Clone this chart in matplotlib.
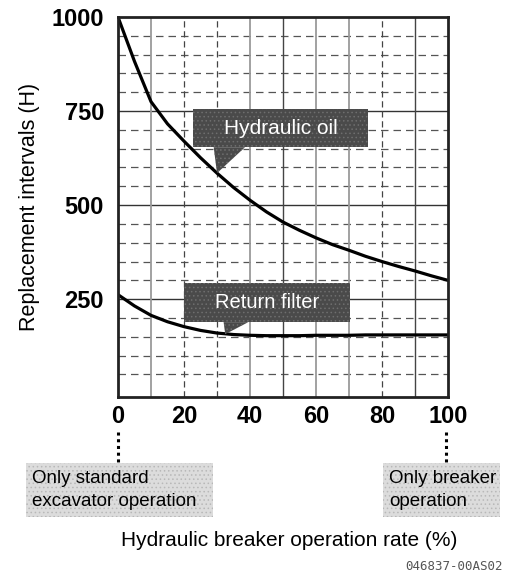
import numpy as np
import matplotlib
matplotlib.use("Agg")
import matplotlib.pyplot as plt
from matplotlib.patches import Polygon, Rectangle

plt.rcParams["font.family"] = ["Liberation Sans", "DejaVu Sans"]
plt.rcParams["hatch.linewidth"] = 0.6

# operation rate (%) and replacement intervals (H)
rate = [0, 5, 10, 15, 20, 25, 30, 35, 40, 45, 50, 55, 60, 65, 70, 75, 80, 85, 90, 95, 100]
hydraulic_oil = [1000, 882, 775, 716, 670, 626, 585, 547, 513, 482, 455, 433, 413, 395,
                 380, 364, 350, 337, 325, 312, 300]
return_filter = [262, 232, 207, 190, 177, 167, 160, 156, 154, 153, 153, 153, 154, 154,
                 154, 155, 155, 155, 155, 155, 155]

x_ticks = [0, 20, 40, 60, 80, 100]
y_ticks = [250, 500, 750, 1000]

W, H = 506, 573
fig = plt.figure(figsize=(W / 100, H / 100), dpi=100)
ax = fig.add_axes([118 / W, 1 - 397 / H, 330 / W, 380 / H])
ax.set_xlim(0, 100)
ax.set_ylim(-10, 1000)

# grid: solid every 250 H, dashed every 50 H
for y in range(50, 1000, 50):
    if y % 250 == 0:
        ax.axhline(y, color="#333333", lw=1.0, zorder=1)
    else:
        ax.axhline(y, color="#555555", lw=0.9, dashes=(6, 4), zorder=1)

v_styles = {10: "g", 20: "d", 30: "d", 40: "g", 50: "k", 60: "g", 70: "g", 80: "d", 90: "k"}
for x, s in v_styles.items():
    if s == "g":
        ax.axvline(x, color="#9a9a9a", lw=1.3, zorder=1)
    elif s == "k":
        ax.axvline(x, color="#444444", lw=1.0, zorder=1)
    else:
        ax.axvline(x, color="#444444", lw=0.9, dashes=(5, 3), zorder=1)

ax.plot(rate, hydraulic_oil, color="black", lw=2.3, zorder=3, solid_capstyle="round",
        solid_joinstyle="round")
ax.plot(rate, return_filter, color="black", lw=2.3, zorder=3, solid_capstyle="round",
        solid_joinstyle="round")

for sp in ax.spines.values():
    sp.set_linewidth(2.0)
    sp.set_color("#222222")
    sp.set_zorder(5)

ax.set_xticks(x_ticks)
ax.set_xticklabels([str(v) for v in x_ticks])
ax.set_yticks(y_ticks)
ax.set_yticklabels([str(v) for v in y_ticks])
ax.tick_params(length=0, labelsize=17)
for lab in ax.get_xticklabels() + ax.get_yticklabels():
    lab.set_fontweight("bold")
ax.tick_params(axis="x", pad=6)
ax.tick_params(axis="y", pad=10)


def callout(x0, x1, y0, y1, base, tip, text, size):
    ax.add_patch(Rectangle((x0, y1), x1 - x0, y0 - y1, facecolor="#4a4a4a",
                           edgecolor="#6e6e6e", hatch="....", lw=0, zorder=4))
    ax.add_patch(Polygon([(base[0], y1), (base[1], y1), tip], closed=True,
                         facecolor="#4a4a4a", edgecolor="#6e6e6e", hatch="....",
                         lw=0, zorder=4))
    ax.text((x0 + x1) / 2, (y0 + y1) / 2, text, color="white", fontsize=size,
            ha="center", va="center", zorder=6)


callout(22.7, 75.8, 755, 654, (29.0, 38.5), (30, 585), "Hydraulic oil", 15)
callout(20.0, 70.3, 293, 189, (32.0, 39.5), (32.5, 157), "Return filter", 14.5)

ax.set_ylabel("Replacement intervals (H)", fontsize=15.5, labelpad=8)


def fx(px):
    return px / W


def fy(py):
    return 1 - py / H


# dotted leaders from the end ticks to the notes
for px in (118, 446):
    fig.add_artist(plt.Line2D([fx(px), fx(px)], [fy(432), fy(462)], color="black",
                              lw=2.2, ls=(0, (1, 1.2))))

for (x0, x1, txt) in [(26, 213, "Only standard\nexcavator operation"),
                      (383, 500, "Only breaker\noperation")]:
    fig.add_artist(Rectangle((fx(x0), fy(517)), fx(x1 - x0), 54 / H, facecolor="#dcdcdc",
                             edgecolor="#b8b8b8", hatch="....", lw=0,
                             transform=fig.transFigure))
    fig.text(fx(x0 + 6), fy(490), txt, fontsize=13.5, ha="left", va="center",
             linespacing=1.45)

fig.text(fx(289), fy(541), "Hydraulic breaker operation rate (%)", fontsize=15,
         ha="center", va="center")
fig.text(fx(503), fy(566), "046837-00AS02", fontsize=9, family="DejaVu Sans Mono",
         color="#555555", ha="right", va="center")

fig.savefig("out.png", dpi=100)
